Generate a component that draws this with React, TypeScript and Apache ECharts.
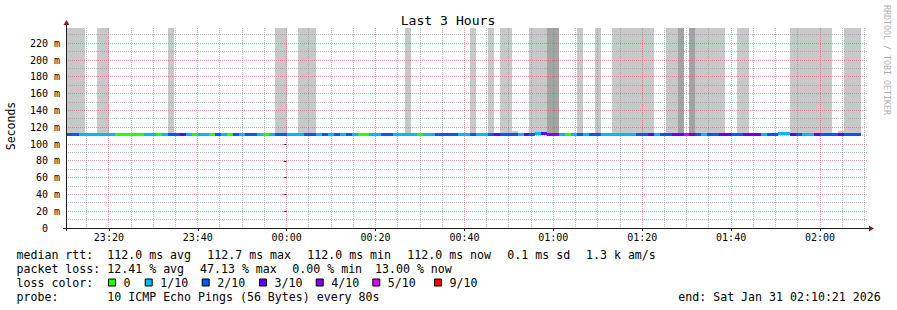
import React, { useEffect, useRef } from "react";
import * as echarts from "echarts";

const FONT = "'DejaVu Sans Mono', monospace";

const title = "Last 3 Hours";
const yAxisName = "Seconds";
const credit = "RRDTOOL / TOBI OETIKER";

// time axis in minutes relative to 00:00 (negative = before midnight)
const xStart = -49.65; // 23:10:21
const xEnd = 130.35; // 02:10:21
const yMaxMs = 238.2;
const stepMinutes = 80 / 60;
const firstStepStart = -49.37;

const xLabelTicks = [-40, -20, 0, 20, 40, 60, 80, 100, 120];
const xGridMinor = [-45, -35, -30, -25, -15, -10, -5, 5, 10, 15, 25, 30, 35, 45, 50, 55, 65, 70, 75, 85, 90, 95, 105, 110, 115, 125, 130];
const yLabelTicks = [0, 20, 40, 60, 80, 100, 120, 140, 160, 180, 200, 220];
const yGridMajor = [20, 40, 60, 80, 100, 120, 140, 160, 180, 200, 220];
const yGridMinor = [10, 30, 50, 70, 90, 110, 130, 150, 170, 190, 210, 230];

const lossLevels = ["0", "1/10", "2/10", "3/10", "4/10", "5/10", "9/10"];
const lossThresholds = [0, 1, 2, 3, 4, 5, 9];
const lossColors = ["#26ff00", "#00b8ff", "#0059ff", "#5e00ff", "#7e00ff", "#dd00ff", "#ff0000"];

// lost pings (of 10) per 80 s step
const lossPerStep = [
  2, 2, 1, 1, 1, 1, 1, 1, 0, 0,
  0, 0, 0, 1, 1, 0, 1, 2, 2, 3,
  1, 0, 1, 1, 0, 2, 1, 0, 2, 1,
  2, 2, 1, 0, 1, 2, 2, 1, 1, 1,
  2, 2, 1, 2, 1, 2, 1, 2, 1, 0,
  0, 1, 1, 2, 2, 1, 1, 1, 1, 0,
  1, 1, 2, 2, 2, 2, 1, 1, 2, 1,
  1, 2, 3, 2, 2, 2, 1, 3, 2, 1,
  3, 4, 4, 1, 0, 1, 2, 1, 2, 2,
  1, 1, 1, 1, 1, 1, 2, 2, 3, 1,
  2, 2, 3, 3, 5, 3, 2, 1, 2, 2,
  3, 3, 2, 2, 3, 3, 3, 1, 2, 2,
  1, 1, 3, 2, 1, 1, 3, 2, 2, 2,
  3, 2, 2, 2,
];

// median rtt (ms) per step
const medianMs = [
  112.0, 112.0, 112.0, 112.0, 112.0, 112.0, 112.0, 112.0, 112.0, 112.0,
  112.0, 112.0, 112.0, 112.0, 112.0, 112.0, 112.0, 112.0, 112.0, 112.0,
  112.0, 112.0, 112.0, 112.0, 112.0, 112.0, 112.0, 112.0, 112.0, 112.0,
  112.0, 112.0, 112.0, 112.0, 112.0, 112.0, 112.0, 112.0, 112.0, 112.0,
  112.0, 112.0, 112.0, 112.0, 112.0, 112.0, 112.0, 112.0, 112.0, 112.0,
  112.0, 112.0, 112.0, 112.0, 112.0, 112.0, 112.0, 112.0, 112.0, 112.0,
  112.0, 112.0, 112.0, 112.0, 112.0, 112.0, 112.0, 112.0, 112.0, 112.0,
  112.0, 112.0, 112.0, 112.0, 112.0, 112.0, 112.0, 112.0, 112.0, 112.6,
  112.7, 112.0, 112.0, 112.0, 112.0, 112.0, 112.0, 112.0, 112.0, 112.0,
  112.0, 112.0, 112.0, 112.0, 112.0, 112.0, 112.0, 112.0, 112.0, 112.0,
  112.0, 112.0, 112.0, 112.0, 112.0, 112.0, 112.0, 112.0, 112.0, 112.0,
  112.0, 112.0, 112.0, 112.0, 112.0, 112.0, 112.0, 112.0, 112.0, 112.0,
  112.6, 112.6, 112.0, 112.0, 112.0, 112.0, 112.0, 112.0, 112.0, 112.0,
  112.0, 112.0, 112.0, 112.0,
];

// highest ping rtt (ms) per step; 0 = no smoke, 1000 = far above the scale
const smokeMaxMs = [
  1000, 1000, 1000, 0, 0, 1000, 1000, 0, 0, 0,
  0, 0, 0, 0, 0, 0, 0, 1000, 0, 0,
  0, 0, 0, 0, 0, 0, 0, 0, 0, 0,
  0, 0, 0, 0, 0, 1000, 1000, 0, 0, 1000,
  1000, 1000, 0, 0, 0, 0, 0, 0, 0, 0,
  0, 0, 0, 0, 0, 0, 0, 1000, 0, 0,
  0, 0, 0, 0, 0, 0, 0, 0, 1000, 0,
  0, 1000, 0, 1000, 1000, 115, 0, 0, 1000, 1000,
  1000, 1000, 1000, 0, 0, 0, 1000, 0, 0, 1000,
  0, 0, 1000, 1000, 1000, 1000, 1000, 1000, 1000, 0,
  0, 1000, 1000, 1000, 0, 1000, 1000, 1000, 1000, 1000,
  1000, 0, 0, 1000, 1000, 0, 0, 0, 0, 0,
  0, 0, 1000, 1000, 1000, 1000, 1000, 1000, 1000, 0,
  115, 1000, 1000, 1000,
];

// 1 = several pings above the scale (darker smoke)
const smokeDense = [
  0, 0, 0, 0, 0, 0, 0, 0, 0, 0,
  0, 0, 0, 0, 0, 0, 0, 0, 0, 0,
  0, 0, 0, 0, 0, 0, 0, 0, 0, 0,
  0, 0, 0, 0, 0, 0, 0, 0, 0, 0,
  0, 0, 0, 0, 0, 0, 0, 0, 0, 0,
  0, 0, 0, 0, 0, 0, 0, 0, 0, 0,
  0, 0, 0, 0, 0, 0, 0, 0, 0, 0,
  0, 0, 0, 0, 0, 0, 0, 0, 0, 0,
  0, 1, 1, 0, 0, 0, 0, 0, 0, 0,
  0, 0, 0, 0, 0, 0, 0, 0, 0, 0,
  0, 0, 0, 1, 0, 1, 0, 0, 0, 0,
  0, 0, 0, 0, 0, 0, 0, 0, 0, 0,
  0, 0, 0, 0, 0, 0, 0, 0, 0, 0,
  0, 0, 0, 0,
];

const rttStats = ["112.0 ms avg", "112.7 ms max", "112.0 ms min", "112.0 ms now", "0.1 ms sd", "1.3 k am/s"];
const lossStats = ["12.41 % avg", "47.13 % max", "0.00 % min", "13.00 % now"];
const probeText = "10 ICMP Echo Pings (56 Bytes) every 80s";
const endText = "end: Sat Jan 31 02:10:21 2026";

// layout
const rttStatX = [107.3, 207.3, 307.3, 407.3, 507.3, 586];
const lossStatX = [107.3, 200, 292.3, 375];
const swatchX = [109, 145.7, 202.7, 260, 316.7, 373.3, 435];
const rowY = [254.5, 268.5, 282.5, 296.5];

const LIGHT = "#c8c8c8";
const DARK = "#a3a3a3";
const MINOR = "rgba(143,143,143,0.6)";
const MAJOR = "rgba(222,79,79,0.55)";

function fmtTime(v: number) {
  const m = ((Math.round(v) % 1440) + 1440) % 1440;
  const hh = Math.floor(m / 60);
  const mm = m % 60;
  return String(hh).padStart(2, "0") + ":" + String(mm).padStart(2, "0");
}

function lossColor(loss: number) {
  let idx = 0;
  for (let i = 0; i < lossThresholds.length; i++) if (loss >= lossThresholds[i]) idx = i;
  return lossColors[idx];
}

function txt(x: number, y: number, s: string, size: number, extra: any = {}) {
  return {
    type: "text",
    x,
    y,
    silent: true,
    z: 100,
    style: {
      text: s,
      font: `${size}px ${FONT}`,
      fill: "#000",
      align: "left",
      verticalAlign: "middle",
      ...extra,
    },
  };
}

export default function App() {
  const ref = useRef<HTMLDivElement>(null);
  useEffect(() => {
    if (!ref.current) return;
    const chart = echarts.init(ref.current, undefined, { renderer: "svg" });

    const stepData = lossPerStep.map((loss, i) => {
      const t0 = firstStepStart + i * stepMinutes;
      return [t0, t0 + stepMinutes, medianMs[i], loss, smokeMaxMs[i], smokeDense[i]];
    });

    const vGrid = [
      ...xGridMinor.map((v) => [v, 0, 0]),
      ...xLabelTicks.map((v) => [v, 0, 1]),
    ];
    const hGrid = [
      ...yGridMinor.map((v) => [0, v, 0]),
      ...yGridMajor.map((v) => [0, v, 1]),
    ];

    const graphic: any[] = [];
    graphic.push(txt(448, 20, title, 13.1, { align: "center" }));
    graphic.push({
      type: "text",
      x: 11,
      y: 126,
      rotation: Math.PI / 2,
      silent: true,
      style: { text: yAxisName, font: `11.5px ${FONT}`, fill: "#000", align: "center", verticalAlign: "middle" },
    });
    graphic.push({
      type: "text",
      x: 887,
      y: 60,
      rotation: -Math.PI / 2,
      silent: true,
      style: { text: credit, font: `8.3px ${FONT}`, fill: "#b0b0b0", align: "center", verticalAlign: "middle" },
    });
    // axes lines + arrows
    graphic.push({ type: "line", silent: true, z: 90, shape: { x1: 63, y1: 228.5, x2: 869, y2: 228.5 }, style: { stroke: "#1f1f1f", lineWidth: 1 } });
    graphic.push({ type: "line", silent: true, z: 90, shape: { x1: 66.5, y1: 231, x2: 66.5, y2: 24 }, style: { stroke: "#1f1f1f", lineWidth: 1 } });
    graphic.push({ type: "polygon", silent: true, z: 91, shape: { points: [[869, 225.5], [874, 228.5], [869, 231.5]] }, style: { fill: "#801f1f" } });
    graphic.push({ type: "polygon", silent: true, z: 91, shape: { points: [[63.5, 25], [66.5, 20], [69.5, 25]] }, style: { fill: "#801f1f" } });

    // legend rows
    graphic.push(txt(16.5, rowY[0], "median rtt:", 11.6));
    rttStats.forEach((s, i) => graphic.push(txt(rttStatX[i], rowY[0], s, 11.6)));
    graphic.push(txt(16.5, rowY[1], "packet loss:", 11.6));
    lossStats.forEach((s, i) => graphic.push(txt(lossStatX[i], rowY[1], s, 11.6)));
    graphic.push(txt(16.5, rowY[2], "loss color:", 11.6));
    lossLevels.forEach((s, i) => {
      graphic.push({
        type: "rect",
        silent: true,
        z: 100,
        shape: { x: swatchX[i] - 0.5, y: rowY[2] - 3.5, width: 7, height: 7 },
        style: { fill: lossColors[i], stroke: "#000", lineWidth: 1 },
      });
      graphic.push(txt(swatchX[i] + 14.5, rowY[2], s, 11.6));
    });
    graphic.push(txt(16.5, rowY[3], "probe:", 11.6));
    graphic.push(txt(107.3, rowY[3], probeText, 11.6));
    graphic.push(txt(678.3, rowY[3], endText, 11.6));

    const option: any = {
      animation: false,
      backgroundColor: "#ffffff",
      grid: { left: 66, top: 28, width: 800, height: 200, containLabel: false, outerBoundsMode: "none" },
      xAxis: {
        type: "value",
        min: xStart,
        max: xEnd,
        axisLine: { show: false },
        splitLine: { show: false },
        axisTick: { show: true, customValues: xLabelTicks, length: 3, lineStyle: { color: "#1f1f1f" } },
        axisLabel: {
          customValues: xLabelTicks,
          formatter: (v: number) => fmtTime(v),
          fontFamily: FONT,
          fontSize: 10,
          color: "#000",
          margin: 4,
        },
      },
      yAxis: {
        type: "value",
        min: 0,
        max: yMaxMs,
        axisLine: { show: false },
        splitLine: { show: false },
        axisTick: { show: true, customValues: yLabelTicks, length: 3, lineStyle: { color: "#1f1f1f" } },
        axisLabel: {
          customValues: yLabelTicks,
          formatter: (v: number) => (v === 0 ? "0\u00a0\u00a0" : `${v} m`),
          fontFamily: FONT,
          fontSize: 10,
          color: "#000",
          margin: 6,
        },
      },
      series: [
        {
          type: "custom",
          name: "smoke",
          z: 1,
          silent: true,
          encode: { x: [0, 1], y: 2 },
          data: stepData,
          renderItem: (params: any, api: any) => {
            const top = api.value(4);
            if (!top) return null;
            const a = api.coord([api.value(0), api.value(2)]);
            const b = api.coord([api.value(1), Math.min(top, yMaxMs)]);
            const x0 = Math.round(a[0]);
            const x1 = Math.round(b[0]);
            const y0 = Math.round(a[1]);
            const y1 = Math.round(b[1]);
            return {
              type: "rect",
              shape: { x: x0, y: y1, width: x1 - x0, height: y0 - y1 },
              style: { fill: api.value(5) ? DARK : LIGHT },
            };
          },
        },
        {
          type: "custom",
          name: "vgrid",
          z: 2,
          silent: true,
          data: vGrid,
          renderItem: (params: any, api: any) => {
            const v = api.value(0);
            const t = api.coord([v, yMaxMs]);
            const b = api.coord([v, 0]);
            const x = Math.floor(t[0]) + 0.5;
            return {
              type: "line",
              shape: { x1: x, y1: t[1], x2: x, y2: b[1] },
              style: { stroke: api.value(2) ? MAJOR : MINOR, lineWidth: 1, lineDash: [1, 1] },
            };
          },
        },
        {
          type: "custom",
          name: "hgrid",
          z: 2,
          silent: true,
          data: hGrid,
          renderItem: (params: any, api: any) => {
            const v = api.value(1);
            const l = api.coord([xStart, v]);
            const r = api.coord([xEnd, v]);
            const y = Math.floor(l[1]) + 0.5;
            return {
              type: "line",
              shape: { x1: l[0], y1: y, x2: r[0] + 2, y2: y },
              style: { stroke: api.value(2) ? MAJOR : MINOR, lineWidth: 1, lineDash: [1, 1] },
            };
          },
        },
        {
          type: "custom",
          name: "median",
          z: 3,
          silent: true,
          encode: { x: [0, 1], y: 2 },
          data: stepData,
          renderItem: (params: any, api: any) => {
            const a = api.coord([api.value(0), api.value(2)]);
            const b = api.coord([api.value(1), api.value(2)]);
            const x0 = Math.round(a[0]);
            const x1 = Math.round(b[0]);
            const yc = Math.round(a[1]);
            return {
              type: "rect",
              shape: { x: x0, y: yc - 1, width: x1 - x0, height: 3 },
              style: { fill: lossColor(api.value(3)) },
            };
          },
        },
      ],
      graphic,
    };
    chart.setOption(option);
    return () => chart.dispose();
  }, []);

  return (
    <div
      ref={ref}
      style={{ position: "fixed", left: 0, top: 0, width: 897, height: 310, background: "#fff" }}
    />
  );
}
